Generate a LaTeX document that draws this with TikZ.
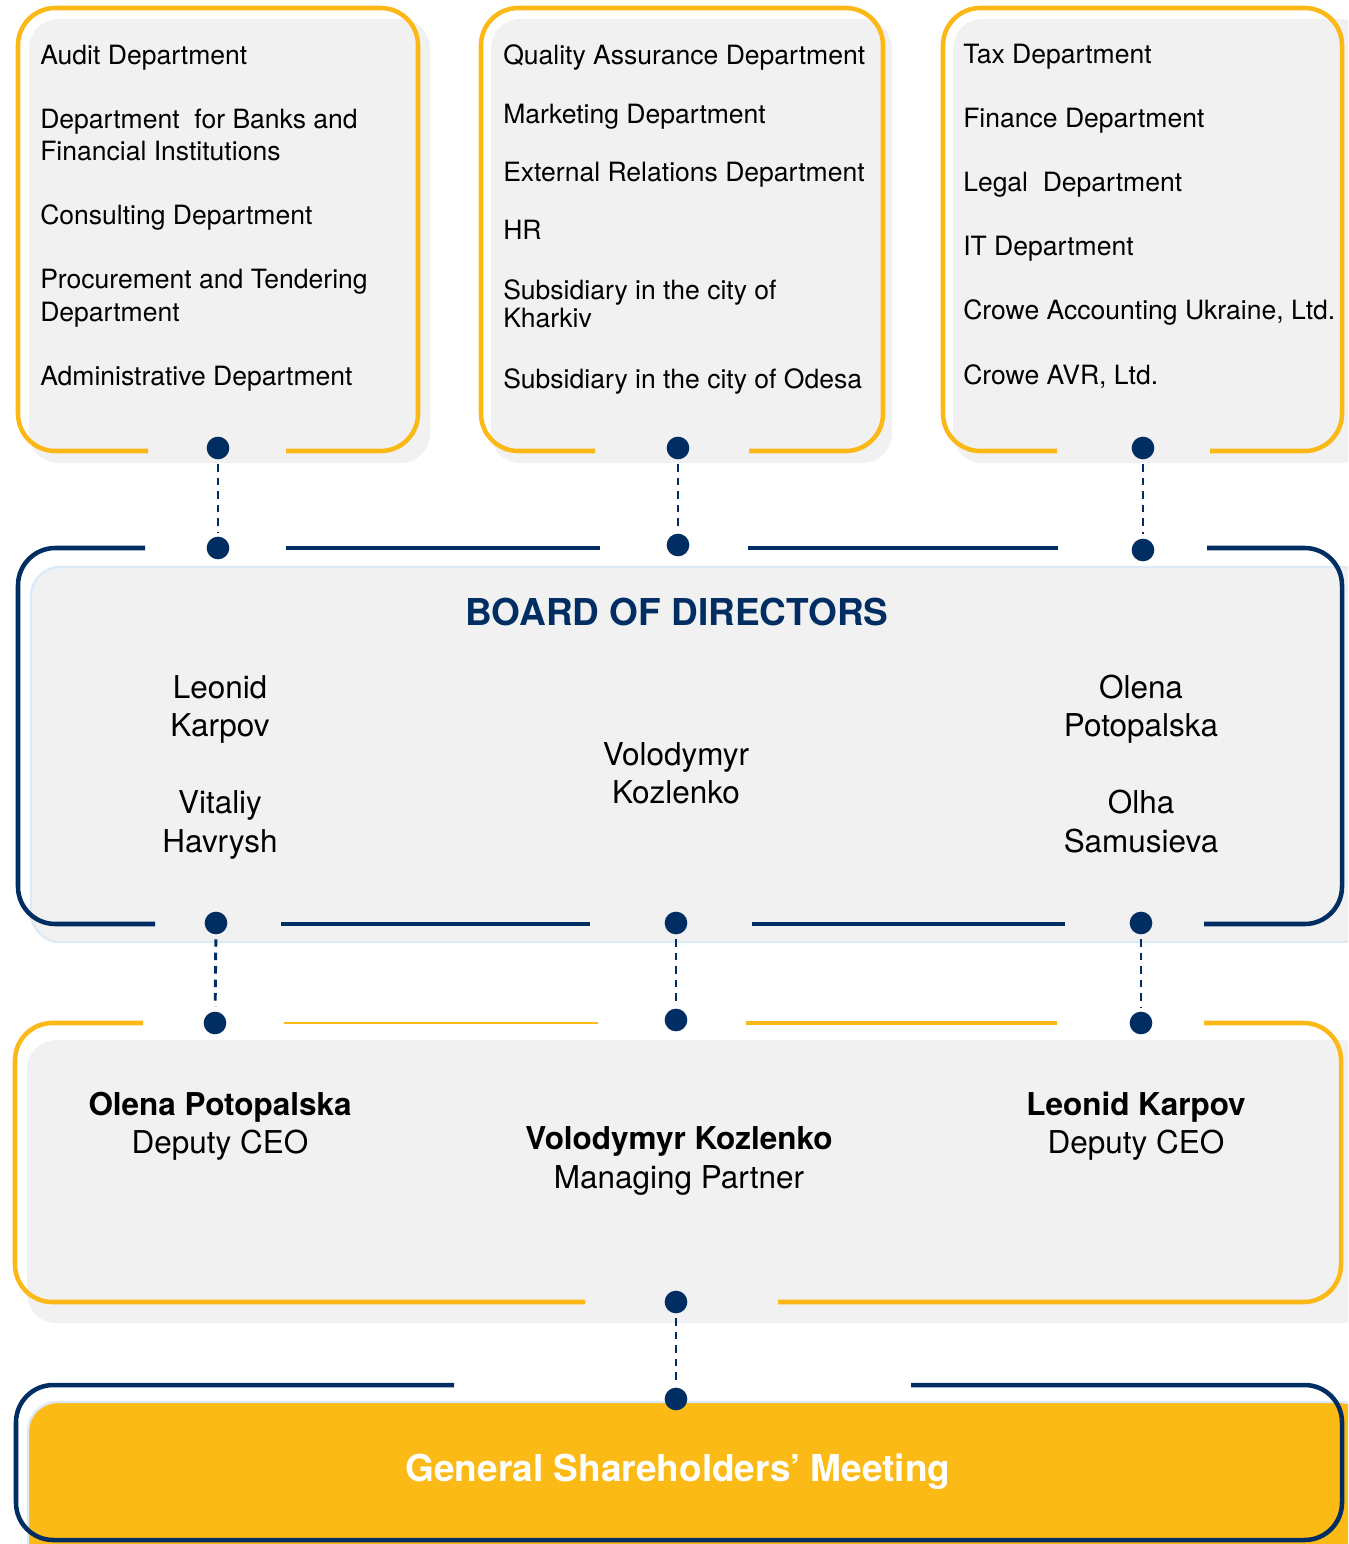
\documentclass[tikz,border=0pt]{standalone}
\usepackage{fontspec}
\setmainfont{TeX Gyre Heros}
\definecolor{navy}{HTML}{002D62}
\definecolor{corange}{HTML}{FBB817}
\definecolor{boxgrey}{HTML}{F1F1F1}
\definecolor{lightblue}{HTML}{DCEAF6}
\definecolor{gsmfill}{HTML}{FBBA16}
\tikzset{
  orangeline/.style={draw=corange, line width=3.4pt, rounded corners=28pt},
  thinorange/.style={draw=corange, line width=1.6pt},
  navyline/.style={draw=navy, line width=3.4pt, rounded corners=28pt},
  greybox/.style={fill=boxgrey, rounded corners=22pt},
  bdot/.style={circle, fill=navy, inner sep=0pt, minimum size=17pt},
  conn/.style={draw=navy, line width=2.2pt, dash pattern=on 5.6pt off 4.5pt, shorten <=3.5pt, shorten >=3.5pt},
  dept/.style={anchor=base west, font=\fontsize{19.9}{24}\selectfont, inner sep=0pt},
  pname/.style={anchor=base, font=\fontsize{23.6}{28}\selectfont, inner sep=0pt},
  bname/.style={anchor=base, font=\fontsize{23.6}{28}\selectfont\bfseries, inner sep=0pt},
  heading/.style={anchor=base, font=\fontsize{27.75}{32}\selectfont\bfseries, inner sep=0pt},
}
\begin{document}
\begin{tikzpicture}[x=0.75pt,y=-0.75pt]
\useasboundingbox (0,0) rectangle (1348,1544);
\clip (0,0) rectangle (1348,1544);

% background panels
\fill[greybox] (29,19) rectangle (430,463);
\fill[greybox] (491,19) rectangle (892,463);
\fill[greybox] (953,19) rectangle (1370,463);
\filldraw[greybox, draw=lightblue, line width=1.8pt] (31,567) rectangle (1370,942);
\fill[greybox] (27,1040) rectangle (1370,1323);
\filldraw[fill=gsmfill, draw=lightblue, line width=1.8pt, rounded corners=22pt] (28,1402) rectangle (1370,1580);

% top boxes outlines
\draw[orangeline] (286,451) -- (418,451) -- (418,8) -- (18,8) -- (18,451) -- (148,451);
\draw[orangeline] (749,451) -- (883,451) -- (883,8) -- (481,8) -- (481,451) -- (595,451);
\draw[orangeline] (1210,451) -- (1342,451) -- (1342,8) -- (943,8) -- (943,451) -- (1057,451);

% board outline
\draw[navyline] (145,548) -- (18,548) -- (18,924) -- (155,924);
\draw[navyline] (286,548) -- (600,548);
\draw[navyline] (748,548) -- (1058,548);
\draw[navyline] (1207,548) -- (1342,548) -- (1342,924) -- (1204,924);
\draw[navyline] (281,924) -- (590,924);
\draw[navyline] (752,924) -- (1065,924);

% senior management outline
\draw[orangeline] (143,1023) -- (15,1023) -- (15,1302) -- (585,1302);
\draw[thinorange] (284,1023) -- (598,1023);
\draw[orangeline] (746,1023) -- (1057,1023);
\draw[orangeline] (1204,1023) -- (1341,1023) -- (1341,1302) -- (778,1302);

% GSM outline
\draw[navyline] (454,1385) -- (16,1385) -- (16,1540) -- (1342,1540) -- (1342,1385) -- (911,1385);

% dots
\node[bdot] (a1) at (218,448) {};
\node[bdot] (a2) at (218,548) {};
\node[bdot] (b1) at (678,448) {};
\node[bdot] (b2) at (678,545) {};
\node[bdot] (c1) at (1143,448) {};
\node[bdot] (c2) at (1143,550) {};
\node[bdot] (d1) at (216,923) {};
\node[bdot] (d2) at (215,1023) {};
\node[bdot] (e1) at (676,923) {};
\node[bdot] (e2) at (676,1020) {};
\node[bdot] (f1) at (1141,923) {};
\node[bdot] (f2) at (1141,1023) {};
\node[bdot] (g1) at (676,1302) {};
\node[bdot] (g2) at (676,1399) {};

% connectors
\draw[conn] (a1) -- (a2);
\draw[conn] (b1) -- (b2);
\draw[conn] (c1) -- (c2);
\draw[conn] (d1) -- (d2);
\draw[conn] (e1) -- (e2);
\draw[conn] (f1) -- (f2);
\draw[conn] (g1) -- (g2);

% left department list
\node[dept] (l1) at (40,65) {Audit Department};
\node[dept] (l2) at (40,129) {Department \ for Banks and};
\node[dept] (l3) at (40,161) {Financial Institutions};
\node[dept] (l4) at (40,225) {Consulting Department};
\node[dept] (l5) at (40,289) {Procurement and Tendering};
\node[dept] (l6) at (40,321) {Department};
\node[dept] (l7) at (40,385) {Administrative Department};

% middle department list
\node[dept] (m1) at (503,65) {Quality Assurance Department};
\node[dept] (m2) at (503,124) {Marketing Department};
\node[dept] (m3) at (503,182) {External Relations Department};
\node[dept] (m4) at (503,240) {HR};
\node[dept] (m5) at (503,300) {Subsidiary in the city of};
\node[dept] (m6) at (503,328) {Kharkiv};
\node[dept] (m7) at (503,388) {Subsidiary in the city of Odesa};

% right department list
\node[dept] (r1) at (963,64) {Tax Department};
\node[dept] (r2) at (963,128) {Finance Department};
\node[dept] (r3) at (963,192) {Legal \ Department};
\node[dept] (r4) at (963,256) {IT Department};
\node[dept] (r5) at (963,320) {Crowe Accounting Ukraine, Ltd.};
\node[dept] (r6) at (963,384) {Crowe AVR, Ltd.};

% board
\node[heading, text=navy] (bh) at (677,625) {BOARD OF DIRECTORS};
\node[pname] (n1) at (220,698) {Leonid};
\node[pname] (n2) at (220,736) {Karpov};
\node[pname] (n3) at (220,813) {Vitaliy};
\node[pname] (n4) at (220,852) {Havrysh};
\node[pname] (n5) at (676,765) {Volodymyr};
\node[pname] (n6) at (676,803) {Kozlenko};
\node[pname] (n7) at (1141,698) {Olena};
\node[pname] (n8) at (1141,736) {Potopalska};
\node[pname] (n9) at (1141,813) {Olha};
\node[pname] (n10) at (1141,852) {Samusieva};

% senior management
\node[bname] (s1) at (220,1115) {Olena Potopalska};
\node[pname] (s2) at (220,1153) {Deputy CEO};
\node[bname] (s3) at (679,1149) {Volodymyr Kozlenko};
\node[pname] (s4) at (679,1188) {Managing Partner};
\node[bname] (s5) at (1136,1115) {Leonid Karpov};
\node[pname] (s6) at (1136,1153) {Deputy CEO};

% GSM
\node[heading, text=white] (gsm) at (678,1481) {General Shareholders’ Meeting};
\end{tikzpicture}
\end{document}
